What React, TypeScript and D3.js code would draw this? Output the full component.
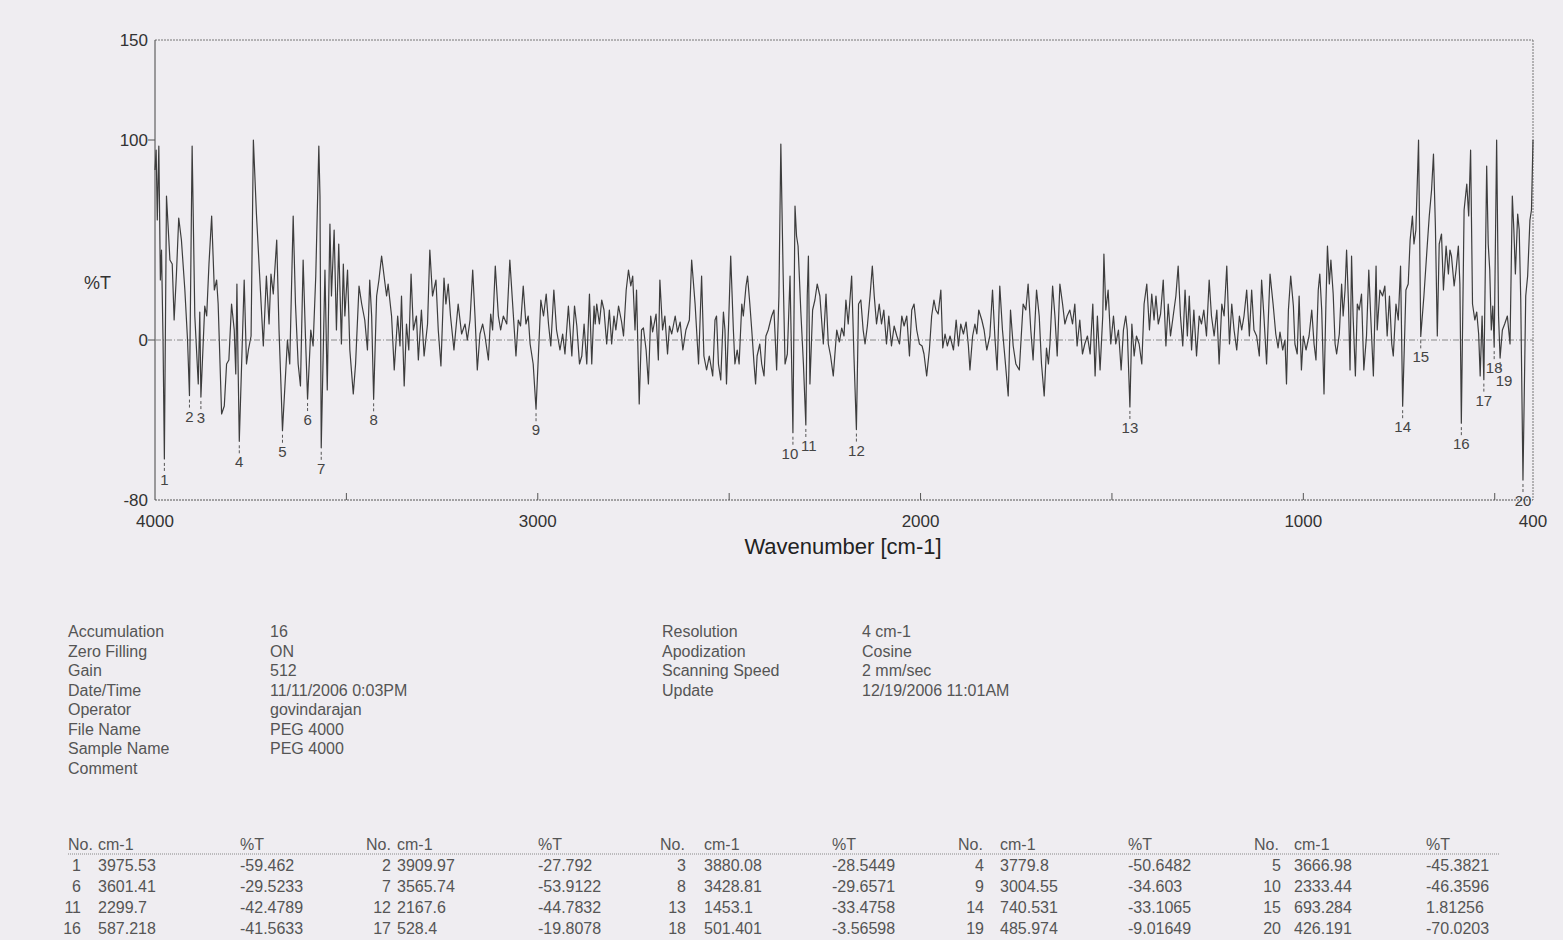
import * as d3 from "d3";

// FTIR trace of PEG 4000: [wavenumber cm-1, %T], turning points
const spectrum: [number, number][] = [
  // 4000 - 3280
  [4000, 85], [3997, 95], [3994, 60], [3990, 97], [3986, 30], [3983, 45], [3979, 0], [3975.53, -59.46], [3970, 72], [3961, 40],
  [3955, 38], [3950, 10], [3944, 33], [3938, 61], [3931, 50], [3922, 25], [3915, 0], [3909.97, -27.79], [3903, 97], [3896, 12],
  [3887, -22], [3883, 14], [3880.08, -28.54], [3870, 17], [3865, 12], [3859, 38], [3852, 62], [3845, 25], [3839, 30], [3835, 18],
  [3826, -37], [3819, -33], [3813, -12], [3807, -10], [3800, 18], [3793, 5], [3789, -17], [3786, 28], [3783, -12], [3779.8, -50.65],
  [3767, 30], [3761, -12], [3756, -5], [3749, 2], [3743, 100], [3735, 63], [3726, 30], [3717, -3], [3709, 32], [3702, 8],
  [3697, 33], [3691, 23], [3682, 50], [3676, 5], [3671, -22], [3666.98, -45.38], [3654, 0], [3648, -12], [3639, 62], [3633, 18],
  [3626, -12], [3620, -23], [3613, 40], [3607, 2], [3601.41, -29.52], [3593, 5], [3587, -3], [3580, 32], [3572, 97], [3569, 72],
  [3565.74, -53.91], [3556, 35], [3550, -25], [3543, 58], [3539, 22], [3532, 55], [3526, 5], [3520, 48], [3513, -2], [3508, 38],
  [3504, 12], [3497, 35], [3491, -5], [3482, -27], [3476, -12], [3467, 27], [3460, 18], [3452, 10], [3445, -5], [3439, 30],
  [3434, 12], [3428.81, -29.66], [3421, 22], [3415, 30], [3408, 42], [3399, 28], [3395, 22], [3391, 28], [3382, 12], [3375, -15],
  [3366, 12], [3360, -3], [3356, 22], [3349, -23], [3343, 8], [3337, -5], [3331, 33], [3325, 5], [3317, 12], [3312, -10],
  [3304, 15], [3297, -8], [3288, 8], [3282, 45],
  // 3280 - 2550
  [3275, 22], [3266, 30], [3260, 5], [3253, -13], [3245, 31], [3240, 18], [3234, 28], [3228, 12], [3219, -5], [3208, 18],
  [3199, 3], [3190, 8], [3184, 0], [3177, 10], [3170, 35], [3164, 12], [3158, -15], [3151, 3], [3144, 8], [3138, 2],
  [3129, -10], [3123, 13], [3118, 5], [3111, 37], [3103, 12], [3097, 5], [3090, 12], [3081, 8], [3073, 40], [3064, 13],
  [3057, -8], [3051, 10], [3045, 7], [3038, 27], [3031, 8], [3025, 12], [3020, -2], [3012, -12], [3004.55, -34.6], [2992, 20],
  [2985, 12], [2978, 23], [2972, 8], [2966, -3], [2958, 25], [2951, 5], [2942, -5], [2935, 3], [2929, -7], [2920, 17],
  [2911, -8], [2904, 17], [2898, 7], [2891, -12], [2885, -8], [2879, 8], [2872, -12], [2865, 23], [2859, -12], [2853, 17],
  [2850, 8], [2846, 18], [2839, 8], [2833, 20], [2827, 15], [2820, -2], [2813, 15], [2807, -2], [2801, 12], [2796, 5],
  [2789, 17], [2781, 9], [2776, 2], [2769, 25], [2763, 35], [2757, 27], [2752, 32], [2746, 5], [2742, 25], [2735, -32],
  [2729, 5], [2724, 6], [2717, -5], [2711, -22], [2705, 12], [2700, 4], [2691, 13], [2685, -10], [2681, 30], [2674, 5],
  [2668, 12], [2661, -7], [2656, 7], [2650, 3], [2641, 12], [2635, 4], [2628, 9], [2621, -5], [2613, 5], [2604, 10],
  [2598, 40], [2589, 18], [2580, -12], [2572, 32], [2566, -8], [2559, -15], [2552, -8],
  // 2550 - 1820
  [2543, -18], [2537, 10], [2533, 12], [2528, -12], [2522, -20], [2515, 14], [2511, 5], [2507, -22], [2502, 5], [2496, 42],
  [2489, 5], [2485, -12], [2479, -5], [2474, -12], [2467, 18], [2463, 12], [2456, 27], [2452, 32], [2446, 18], [2441, 5],
  [2435, -12], [2431, -22], [2427, -8], [2420, -2], [2415, -12], [2409, -18], [2404, 2], [2398, 5], [2389, 12], [2383, 15],
  [2376, -15], [2370, 22], [2365, 98], [2359, 33], [2354, -12], [2348, -7], [2341, 32], [2333.44, -46.36], [2328, 67], [2324, 52],
  [2320, 47], [2313, 15], [2306, -12], [2299.7, -42.48], [2296, 22], [2293, 42], [2289, -22], [2282, 15], [2276, 20], [2270, 28],
  [2263, 22], [2254, -2], [2247, 23], [2241, -2], [2235, -8], [2228, -18], [2219, 5], [2212, -1], [2206, 6], [2200, 2],
  [2195, 20], [2189, 8], [2180, 32], [2174, -8], [2167.6, -44.78], [2162, 18], [2156, 20], [2150, 5], [2145, -2], [2139, 7],
  [2132, 22], [2126, 37], [2121, 22], [2115, 8], [2108, 18], [2102, 8], [2096, 15], [2089, -2], [2083, 12], [2076, -3],
  [2069, 7], [2062, 2], [2055, -2], [2049, 12], [2043, 7], [2036, 12], [2029, -8], [2023, 15], [2017, 18], [2010, 5],
  [2003, -2], [1996, -3], [1991, -7], [1984, -18], [1977, -5], [1971, 12], [1965, 20], [1960, 15], [1954, 13], [1947, 25],
  [1942, -4], [1936, 3], [1930, -3], [1923, 2], [1914, -5], [1907, 10], [1901, -3], [1895, 8], [1888, 3], [1881, 9],
  [1875, -3], [1871, -15], [1864, 2], [1858, 8], [1853, 3], [1848, 15], [1840, 10], [1834, 5], [1827, -5], [1819, 2],
  // 1820 - 1090
  [1812, 25], [1806, 2], [1800, -15], [1793, 27], [1786, 5], [1780, -8], [1771, -28], [1765, 15], [1758, -3], [1751, -12],
  [1742, -15], [1736, 5], [1732, 18], [1725, 15], [1719, 28], [1712, 5], [1706, -10], [1697, 25], [1690, 12], [1684, -12],
  [1677, -28], [1671, -4], [1666, -12], [1662, -2], [1655, 27], [1649, 12], [1643, -8], [1636, 28], [1629, 18], [1623, 8],
  [1617, 12], [1610, 15], [1603, 8], [1597, 18], [1591, -3], [1584, 10], [1577, -7], [1571, -2], [1564, 2], [1557, -7],
  [1550, 18], [1544, -18], [1538, 12], [1531, -15], [1524, 12], [1521, 43], [1516, 15], [1510, 25], [1503, -2], [1496, 12],
  [1490, -2], [1483, 5], [1476, -15], [1470, 5], [1464, 12], [1460, 5], [1453.1, -33.48], [1448, 8], [1442, -8], [1436, 2],
  [1429, -2], [1422, -12], [1416, 18], [1409, 28], [1402, 5], [1396, 23], [1390, 10], [1385, 22], [1379, 8], [1373, 13],
  [1366, 30], [1359, -3], [1353, 18], [1347, 2], [1340, 12], [1333, 22], [1327, 37], [1321, 12], [1315, -3], [1309, 25],
  [1303, 2], [1298, 22], [1292, -5], [1286, 15], [1279, -8], [1272, 12], [1266, 8], [1260, 15], [1253, 2], [1246, 30],
  [1240, 12], [1233, 2], [1226, 15], [1220, -12], [1213, 18], [1207, 12], [1200, 37], [1193, -2], [1187, 18], [1181, 5],
  [1174, -5], [1167, 12], [1161, 5], [1155, 12], [1148, 25], [1141, 2], [1135, 25], [1129, 5], [1122, 2], [1115, -8],
  [1109, 30], [1103, 12], [1096, -12],
  // 1090 - 400
  [1087, 33], [1079, 18], [1072, 3], [1066, -4], [1061, 4], [1054, -5], [1048, 0], [1044, -22], [1039, 15], [1033, 32],
  [1026, 17], [1022, -2], [1016, -7], [1011, 22], [1005, -15], [1000, 2], [993, -5], [985, 2], [978, 15], [972, -2],
  [967, -10], [961, 25], [957, 33], [952, 15], [946, -27], [941, 18], [937, 47], [932, 28], [928, 40], [922, 23],
  [917, -2], [913, -7], [906, 3], [900, 28], [896, 12], [891, 25], [887, 45], [882, 18], [878, -15], [874, 42],
  [870, 12], [864, -18], [859, 18], [854, 15], [848, 23], [842, -15], [835, 2], [829, 35], [824, 12], [817, -18],
  [810, 37], [807, 5], [800, 25], [793, 22], [787, 27], [781, 2], [775, 22], [769, -2], [765, -8], [758, 18],
  [752, 10], [746, 37], [740.53, -33.11], [732, 25], [726, 28], [721, 50], [715, 62], [711, 48], [706, 55], [699, 100],
  [696, 50], [693.28, 1.81], [685, 22], [676, 48], [671, 62], [665, 75], [660, 93], [655, 57], [650, 2], [645, 48],
  [639, 53], [634, 25], [627, 47], [621, 33], [617, 45], [613, 42], [606, 27], [601, 35], [595, 47], [591, 28],
  [587.22, -41.56], [580, 65], [573, 78], [568, 62], [563, 95], [558, 18], [552, 10], [547, 14], [542, 3], [538, -18],
  [533, 12], [528.4, -19.81], [521, 87], [517, 48], [513, 35], [509, 5], [505, 17], [501.4, -3.57], [495, 100], [490, 12],
  [485.97, -9.02], [480, 5], [474, 8], [467, 12], [460, -2], [454, 72], [450, 55], [446, 33], [440, 63], [436, 55],
  [432, 20], [426.19, -70.02], [419, 22], [414, 32], [408, 60], [404, 65], [400, 100],
];

// peak table
const peakNo = [1, 2, 3, 4, 5, 6, 7, 8, 9, 10, 11, 12, 13, 14, 15, 16, 17, 18, 19, 20];
const peakWn = ["3975.53", "3909.97", "3880.08", "3779.8", "3666.98", "3601.41", "3565.74", "3428.81", "3004.55", "2333.44",
  "2299.7", "2167.6", "1453.1", "740.531", "693.284", "587.218", "528.4", "501.401", "485.974", "426.191"];
const peakT = ["-59.462", "-27.792", "-28.5449", "-50.6482", "-45.3821", "-29.5233", "-53.9122", "-29.6571", "-34.603", "-46.3596",
  "-42.4789", "-44.7832", "-33.4758", "-33.1065", "1.81256", "-41.5633", "-19.8078", "-3.56598", "-9.01649", "-70.0203"];

const yTickValues = [150, 100, 0, -80];
const xTickLabels = [4000, 3000, 2000, 1000, 400];
const xMinorTicks = [3500, 3000, 2500, 2000, 1500, 1000, 500];

const metaLeftLabels = ["Accumulation", "Zero Filling", "Gain", "Date/Time", "Operator", "File Name", "Sample Name", "Comment"];
const metaLeftValues = ["16", "ON", "512", "11/11/2006 0:03PM", "govindarajan", "PEG 4000", "PEG 4000", ""];
const metaRightLabels = ["Resolution", "Apodization", "Scanning Speed", "Update"];
const metaRightValues = ["4 cm-1", "Cosine", "2 mm/sec", "12/19/2006 11:01AM"];

const FONT = "'Liberation Sans', Arial, sans-serif";

// small nudges for crowded peak numbers
const labelShift: Record<number, [number, number]> = { 10: [-3, 0], 11: [3, 0], 19: [4, 2] };

export default function App() {
  const W = 1563, H = 940;
  const x = d3.scaleLinear().domain([4000, 400]).range([155, 1533]);
  const y = d3.scaleLinear().domain([-80, 150]).range([500, 40]);
  const line = d3.line<[number, number]>().x(d => x(d[0])).y(d => y(d[1]));

  // table column layout
  const colNo = [68, 366, 660, 958, 1254];
  const colNoRight = [81, 391, 686, 984, 1281];
  const colWn = [98, 397, 704, 1000, 1294];
  const colT = [240, 538, 832, 1128, 1426];
  const rowY = [871, 892, 913, 934];

  return (
    <svg width={W} height={H} style={{ position: "absolute", left: 0, top: 0 }} fontFamily={FONT}>
      <rect width={W} height={H} fill="#efedf1" />

      {/* frame */}
      <line x1={155} x2={1533} y1={40} y2={40} stroke="#777" strokeDasharray="2,1" />
      <line x1={1533} x2={1533} y1={40} y2={500} stroke="#777" strokeDasharray="2,1" />
      <line x1={155} x2={1533} y1={500} y2={500} stroke="#555" strokeDasharray="2,1" />
      <line x1={155} x2={155} y1={40} y2={500} stroke="#444" />
      <line x1={155} x2={1533} y1={y(0)} y2={y(0)} stroke="#888" strokeDasharray="6,2,1,2" />

      {/* y axis */}
      {yTickValues.map(v => (
        <g key={v}>
          {(v === 100 || v === 0) && <line x1={148} x2={155} y1={y(v)} y2={y(v)} stroke="#555" />}
          <text x={148} y={y(v) + 6} textAnchor="end" fontSize={17} fill="#333">{v}</text>
        </g>
      ))}
      <text x={84} y={289} fontSize={18} fill="#333">%T</text>

      {/* x axis */}
      {xMinorTicks.map(v => (
        <line key={v} x1={x(v)} x2={x(v)} y1={493} y2={500} stroke="#555" />
      ))}
      {xTickLabels.map(v => (
        <text key={v} x={x(v)} y={527} textAnchor="middle" fontSize={17} fill="#333">{v}</text>
      ))}
      <text x={843} y={554} textAnchor="middle" fontSize={22} fill="#222">Wavenumber [cm-1]</text>

      {/* spectrum */}
      <path d={line(spectrum) ?? ""} fill="none" stroke="#3d3d3d" strokeWidth={1.2} strokeLinejoin="round" />

      {/* peak markers */}
      {peakNo.map((n, i) => {
        const px = x(+peakWn[i]);
        const py = y(+peakT[i]);
        const [dx, dy] = labelShift[n] ?? [0, 0];
        return (
          <g key={n}>
            <line x1={px} x2={px} y1={py + 4} y2={py + 13} stroke="#555" strokeDasharray="3,2" />
            <text x={px + dx} y={py + 26 + dy} textAnchor="middle" fontSize={15} fill="#444">{n}</text>
          </g>
        );
      })}

      {/* metadata */}
      {metaLeftLabels.map((t, i) => (
        <g key={t} fontSize={16} fill="#555">
          <text x={68} y={637 + i * 19.5}>{t}</text>
          <text x={270} y={637 + i * 19.5}>{metaLeftValues[i]}</text>
        </g>
      ))}
      {metaRightLabels.map((t, i) => (
        <g key={t} fontSize={16} fill="#555">
          <text x={662} y={637 + i * 19.5}>{t}</text>
          <text x={862} y={637 + i * 19.5}>{metaRightValues[i]}</text>
        </g>
      ))}

      {/* peak table */}
      {colNo.map((cx, c) => (
        <g key={cx} fontSize={16} fill="#555">
          <text x={cx} y={850}>No.</text>
          <text x={colWn[c]} y={850}>cm-1</text>
          <text x={colT[c]} y={850}>%T</text>
        </g>
      ))}
      <line x1={68} x2={1500} y1={854} y2={854} stroke="#888" strokeDasharray="1,1" />
      {peakNo.map((n, i) => {
        const r = Math.floor(i / 5), c = i % 5;
        return (
          <g key={n} fontSize={16} fill="#555">
            <text x={colNoRight[c]} y={rowY[r]} textAnchor="end">{n}</text>
            <text x={colWn[c]} y={rowY[r]}>{peakWn[i]}</text>
            <text x={colT[c]} y={rowY[r]}>{peakT[i]}</text>
          </g>
        );
      })}
    </svg>
  );
}
